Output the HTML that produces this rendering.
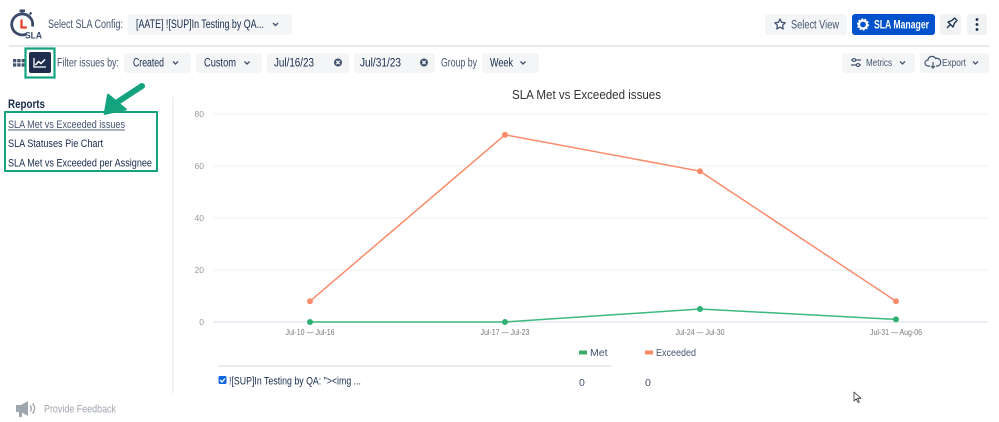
<!DOCTYPE html>
<html><head><meta charset="utf-8"><style>
html,body{margin:0;padding:0;background:#fff;width:999px;height:422px;overflow:hidden}
svg{display:block;font-family:"Liberation Sans",Arial,sans-serif}
</style></head><body>
<svg width="999" height="422" viewBox="0 0 999 422" xmlns="http://www.w3.org/2000/svg">
<rect width="999" height="422" fill="#fff"/>
<!-- Logo -->
<g>
<path d="M26.5 34 A10.5 10.5 0 1 1 32.5 26.5" fill="none" stroke="#3b4a6b" stroke-width="2.8"/>
<rect x="19.5" y="9.5" width="5.5" height="2.5" fill="#3b4a6b"/>
<rect x="21.2" y="11.5" width="2" height="3" fill="#3b4a6b"/>
<path d="M29.5 14.5 l2 -2" stroke="#3b4a6b" stroke-width="2"/>
<path d="M21.5 19.5 V27.5 H26.8" fill="none" stroke="#e8412b" stroke-width="2.3"/>
<text x="25" y="38.5" font-size="9" font-weight="bold" fill="#3b4a6b" textLength="17" lengthAdjust="spacingAndGlyphs">SLA</text>
</g>
<text x="48" y="28" font-size="11.5" fill="#44546f" textLength="75" lengthAdjust="spacingAndGlyphs">Select SLA Config:</text>
<rect x="128" y="14" width="164" height="21" rx="3" fill="#f4f5f7"/>
<text x="136" y="28" font-size="11.5" fill="#172b4d" textLength="128" lengthAdjust="spacingAndGlyphs">[AATE] ![SUP]In Testing by QA...</text>
<path d="M273 23 l2.5 2.5 l2.5 -2.5" fill="none" stroke="#44546f" stroke-width="1.4"/>

<!-- Right header buttons -->
<rect x="765" y="14" width="82" height="21" rx="3" fill="#f4f5f7"/>
<path d="M780 19 l1.6 3.3 3.6 .5 -2.6 2.5 .6 3.6 -3.2 -1.7 -3.2 1.7 .6 -3.6 -2.6 -2.5 3.6 -.5z" fill="none" stroke="#44546f" stroke-width="1.3" stroke-linejoin="round"/>
<text x="791" y="28.5" font-size="11.5" fill="#44546f" textLength="48" lengthAdjust="spacingAndGlyphs">Select View</text>
<rect x="852" y="14" width="83" height="21" rx="3" fill="#0052cc"/>
<circle cx="863" cy="24.5" r="4" fill="none" stroke="#fff" stroke-width="2.2"/>
<circle cx="863" cy="24.5" r="5.3" fill="none" stroke="#fff" stroke-width="1.6" stroke-dasharray="1.8 1.5"/>
<text x="874" y="28.5" font-size="11.5" font-weight="bold" fill="#fff" textLength="55" lengthAdjust="spacingAndGlyphs">SLA Manager</text>
<rect x="940" y="14" width="21" height="21" rx="3" fill="#f1f2f4"/>
<path d="M947 28 l3 -3 M948 22 l5 5 l1.5 -4 l2.5 -2.5 l-2.5 -2.5 l-2.5 2.5z" fill="none" stroke="#172b4d" stroke-width="1.3" stroke-linejoin="round"/>
<rect x="967" y="14" width="20" height="21" rx="3" fill="#f1f2f4"/>
<circle cx="977" cy="19.5" r="1.4" fill="#172b4d"/><circle cx="977" cy="24.5" r="1.4" fill="#172b4d"/><circle cx="977" cy="29.5" r="1.4" fill="#172b4d"/>

<!-- header divider -->
<rect x="9" y="45" width="980" height="2" fill="#e6e8ec"/>

<!-- Row 2 -->
<g fill="#44546f">
<rect x="13" y="59" width="3.3" height="3.3"/><rect x="17.3" y="59" width="3.3" height="3.3"/><rect x="21.6" y="59" width="3.3" height="3.3"/>
<rect x="13" y="63.3" width="3.3" height="3.3"/><rect x="17.3" y="63.3" width="3.3" height="3.3"/><rect x="21.6" y="63.3" width="3.3" height="3.3"/>
</g>
<rect x="25.5" y="48.5" width="29" height="29" fill="none" stroke="#14a37f" stroke-width="2.2"/>
<rect x="29" y="52" width="22" height="21" rx="2" fill="#1f2d4d"/>
<path d="M34 58 V67 H46" fill="none" stroke="#fff" stroke-width="1.3"/>
<path d="M35.5 65 l3 -3.5 2.5 2 4 -4" fill="none" stroke="#fff" stroke-width="1.5"/>
<text x="57" y="66.5" font-size="11.5" fill="#44546f" textLength="62" lengthAdjust="spacingAndGlyphs">Filter issues by:</text>

<rect x="124" y="53" width="67" height="20" rx="3" fill="#f4f5f7"/>
<text x="133" y="66.5" font-size="11.5" fill="#172b4d" textLength="31" lengthAdjust="spacingAndGlyphs">Created</text>
<path d="M173 61.5 l2.5 2.5 l2.5 -2.5" fill="none" stroke="#44546f" stroke-width="1.4"/>
<rect x="196" y="53" width="66" height="20" rx="3" fill="#f4f5f7"/>
<text x="204" y="66.5" font-size="11.5" fill="#172b4d" textLength="32" lengthAdjust="spacingAndGlyphs">Custom</text>
<path d="M244.5 61.5 l2.5 2.5 l2.5 -2.5" fill="none" stroke="#44546f" stroke-width="1.4"/>
<rect x="267" y="53" width="82" height="20" rx="3" fill="#f4f5f7"/>
<text x="274" y="66.5" font-size="11.5" fill="#172b4d" textLength="40" lengthAdjust="spacingAndGlyphs">Jul/16/23</text>
<circle cx="338" cy="62.5" r="4" fill="#44546f"/><path d="M336.3 60.8 l3.4 3.4 M339.7 60.8 l-3.4 3.4" stroke="#fff" stroke-width="1.1"/>
<rect x="354" y="53" width="81" height="20" rx="3" fill="#f4f5f7"/>
<text x="360" y="66.5" font-size="11.5" fill="#172b4d" textLength="41" lengthAdjust="spacingAndGlyphs">Jul/31/23</text>
<circle cx="424" cy="62.5" r="4" fill="#44546f"/><path d="M422.3 60.8 l3.4 3.4 M425.7 60.8 l-3.4 3.4" stroke="#fff" stroke-width="1.1"/>
<text x="441" y="66.5" font-size="11.5" fill="#44546f" textLength="36" lengthAdjust="spacingAndGlyphs">Group by</text>
<rect x="482" y="53" width="57" height="20" rx="3" fill="#f4f5f7"/>
<text x="490" y="66.5" font-size="11.5" fill="#172b4d" textLength="23" lengthAdjust="spacingAndGlyphs">Week</text>
<path d="M520.5 61.5 l2.5 2.5 l2.5 -2.5" fill="none" stroke="#44546f" stroke-width="1.4"/>

<rect x="842" y="53" width="73" height="20" rx="3" fill="#f4f5f7"/>
<path d="M851 60 h10 M851 65 h10" stroke="#44546f" stroke-width="1.2"/>
<circle cx="854" cy="60" r="1.5" fill="#f4f5f7" stroke="#44546f" stroke-width="1.1"/>
<circle cx="858" cy="65" r="1.5" fill="#f4f5f7" stroke="#44546f" stroke-width="1.1"/>
<text x="866" y="66" font-size="10.5" fill="#44546f" textLength="26" lengthAdjust="spacingAndGlyphs">Metrics</text>
<path d="M900 61.5 l2.5 2.5 l2.5 -2.5" fill="none" stroke="#44546f" stroke-width="1.3"/>
<rect x="920" y="53" width="69" height="20" rx="3" fill="#f4f5f7"/>
<path d="M930 66 h-2 a3 3 0 0 1 0 -6 a4 4 0 0 1 7.5 -1.5 a3 3 0 0 1 2.5 7.5 h-2" fill="none" stroke="#44546f" stroke-width="1.2"/>
<path d="M933 62 v6 M931 66 l2 2 l2 -2" fill="none" stroke="#44546f" stroke-width="1.2"/>
<text x="942" y="66" font-size="10.5" fill="#44546f" textLength="24" lengthAdjust="spacingAndGlyphs">Export</text>
<path d="M973 61.5 l2.5 2.5 l2.5 -2.5" fill="none" stroke="#44546f" stroke-width="1.3"/>

<!-- Left panel -->
<text x="8" y="108" font-size="11.5" font-weight="bold" fill="#172b4d" textLength="37" lengthAdjust="spacingAndGlyphs">Reports</text>
<rect x="5" y="112" width="152" height="59" fill="none" stroke="#14a37f" stroke-width="2"/>
<text x="8" y="128" font-size="11" fill="#44546f" textLength="117" lengthAdjust="spacingAndGlyphs">SLA Met vs Exceeded issues</text>
<rect x="8" y="129.5" width="117" height="0.9" fill="#44546f"/>
<text x="8" y="147" font-size="11" fill="#172b4d" textLength="95" lengthAdjust="spacingAndGlyphs">SLA Statuses Pie Chart</text>
<text x="8" y="166.5" font-size="11" fill="#172b4d" textLength="144" lengthAdjust="spacingAndGlyphs">SLA Met vs Exceeded per Assignee</text>
<!-- green arrow -->
<path d="M142 86 L116 103" stroke="#14a37f" stroke-width="6" stroke-linecap="round"/>
<path d="M104.5 114 L108 94.5 L126 109.5 Z" fill="#14a37f" stroke="#14a37f" stroke-width="1.8" stroke-linejoin="round"/>

<rect x="172" y="97" width="1.5" height="297" fill="#eef0f3"/>

<!-- Chart -->
<text x="586.5" y="99" font-size="12.5" fill="#333" text-anchor="middle" textLength="149" lengthAdjust="spacingAndGlyphs">SLA Met vs Exceeded issues</text>
<g stroke="#eeeff1" stroke-width="1">
<line x1="213" y1="114" x2="988" y2="114"/>
<line x1="213" y1="166" x2="988" y2="166"/>
<line x1="213" y1="218" x2="988" y2="218"/>
<line x1="213" y1="270" x2="988" y2="270"/>
</g>
<line x1="213" y1="322" x2="988" y2="322" stroke="#dde3f0" stroke-width="1.2"/>
<g font-size="8.5" fill="#999" text-anchor="end">
<text x="204" y="117">80</text>
<text x="204" y="169">60</text>
<text x="204" y="221">40</text>
<text x="204" y="273">20</text>
<text x="204" y="325">0</text>
</g>
<g font-size="8.5" fill="#777" text-anchor="middle">
<text x="310" y="335" textLength="49" lengthAdjust="spacingAndGlyphs">Jul-10 — Jul-16</text>
<text x="505" y="335" textLength="49" lengthAdjust="spacingAndGlyphs">Jul-17 — Jul-23</text>
<text x="700" y="335" textLength="49" lengthAdjust="spacingAndGlyphs">Jul-24 — Jul-30</text>
<text x="896" y="335" textLength="52" lengthAdjust="spacingAndGlyphs">Jul-31 — Aug-06</text>
</g>
<polyline points="310,301.2 505,134.8 700,171.2 896,301.2" fill="none" stroke="#fc8b6b" stroke-width="1.5"/>
<g fill="#fc8b6b"><circle cx="310" cy="301.2" r="3"/><circle cx="505" cy="134.8" r="3"/><circle cx="700" cy="171.2" r="3"/><circle cx="896" cy="301.2" r="3"/></g>
<polyline points="310,322 505,322 700,309 896,319.4" fill="none" stroke="#3cb97d" stroke-width="1.5"/>
<g fill="#2fb174"><circle cx="310" cy="322" r="3"/><circle cx="505" cy="322" r="3"/><circle cx="700" cy="309" r="3"/><circle cx="896" cy="319.4" r="3"/></g>

<!-- Legend -->
<rect x="579" y="350.5" width="8" height="4" fill="#3cab6a"/>
<text x="590" y="356" font-size="10.5" fill="#44546f">Met</text>
<rect x="645" y="350.5" width="8" height="4" fill="#fc8b6b"/>
<text x="656" y="356" font-size="10.5" fill="#44546f" textLength="40" lengthAdjust="spacingAndGlyphs">Exceeded</text>

<rect x="218" y="365" width="394" height="2" fill="#ebecf0"/>
<rect x="218.5" y="376" width="8" height="8" rx="1.5" fill="#0c66e4"/>
<path d="M220 380 l2 2 l3 -3.5" fill="none" stroke="#fff" stroke-width="1.3"/>
<text x="229" y="384.5" font-size="11" fill="#172b4d" textLength="132" lengthAdjust="spacingAndGlyphs">![SUP]In Testing by QA: "&gt;&lt;img ...</text>
<text x="579" y="386" font-size="10.5" fill="#44546f">0</text>
<text x="645" y="386" font-size="10.5" fill="#44546f">0</text>

<!-- cursor -->
<path d="M854 392 L854 401 L856.3 398.8 L858 402.5 L859.3 402 L857.7 398.3 L861 398.3 Z" fill="#fff" stroke="#333" stroke-width="0.8" stroke-linejoin="round"/>

<!-- Feedback -->
<g fill="#a0a6b0">
<path d="M16 405 h5 l7 -4 v15 l-7 -4 h-5z"/>
<rect x="19" y="412" width="3" height="5"/>
<path d="M30 405.5 a4 4 0 0 1 0 6" fill="none" stroke="#a0a6b0" stroke-width="1.3"/>
<path d="M32.5 403.5 a7 7 0 0 1 0 10" fill="none" stroke="#a0a6b0" stroke-width="1.3"/>
</g>
<text x="44" y="412.5" font-size="11" fill="#a0a6b0" textLength="72" lengthAdjust="spacingAndGlyphs">Provide Feedback</text>
</svg>
</body></html>
